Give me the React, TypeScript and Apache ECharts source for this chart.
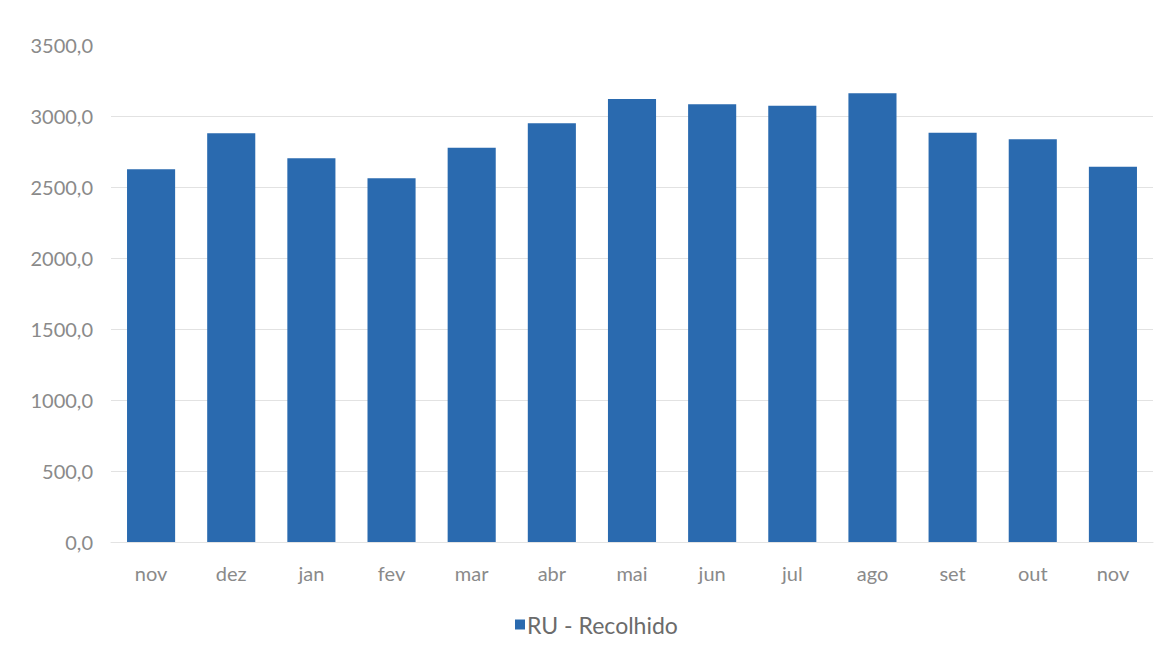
import React, { useEffect, useRef } from "react";
import * as echarts from "echarts";

const categories = ["nov", "dez", "jan", "fev", "mar", "abr", "mai", "jun", "jul", "ago", "set", "out", "nov"];
const recolhido = [2625, 2878, 2702, 2561, 2777, 2949, 3120, 3082, 3073, 3160, 2882, 2836, 2643];
const seriesName = "RU - Recolhido";
const yMin = 0;
const yMax = 3500;
const yStep = 500;

export default function App() {
  const ref = useRef<HTMLDivElement>(null);
  useEffect(() => {
    if (!ref.current) return;
    const chart = echarts.init(ref.current, undefined, { renderer: "svg" });
    chart.setOption({
      animation: false,
      backgroundColor: "#ffffff",
      textStyle: { fontFamily: "Lato" },
      grid: { left: 111, right: 16, top: 45, bottom: 117, containLabel: false },
      legend: {
        data: [seriesName],
        left: 510,
        top: 608,
        icon: "rect",
        itemWidth: 10,
        itemHeight: 10,
        itemGap: 10,
        textStyle: { fontFamily: "Lato", fontSize: 23, color: "#6b6b6b", padding: [0, 0, 0, -3] },
      },
      xAxis: {
        type: "category",
        data: categories,
        axisLine: { show: true, lineStyle: { color: "#e3e3e3", width: 1 } },
        axisTick: { show: false },
        axisLabel: { fontFamily: "Lato", fontSize: 20, color: "#8a8a8a", margin: 21 },
      },
      yAxis: {
        type: "value",
        min: yMin,
        max: yMax,
        interval: yStep,
        axisLine: { show: false },
        axisTick: { show: false },
        splitLine: { show: true, showMaxLine: false, lineStyle: { color: "#e2e2e2", width: 1 } },
        axisLabel: {
          fontFamily: "Lato",
          fontSize: 20,
          color: "#8a8a8a",
          margin: 18,
          formatter: (v: number) => v.toFixed(1).replace(".", ","),
        },
      },
      series: [
        {
          name: seriesName,
          type: "bar",
          data: recolhido,
          barCategoryGap: "40%",
          itemStyle: { color: "#2a6aaf" },
        },
      ],
    });
    return () => chart.dispose();
  }, []);
  return (
    <div
      ref={ref}
      style={{ position: "fixed", left: 0, top: 0, width: 1169, height: 659 }}
    />
  );
}
